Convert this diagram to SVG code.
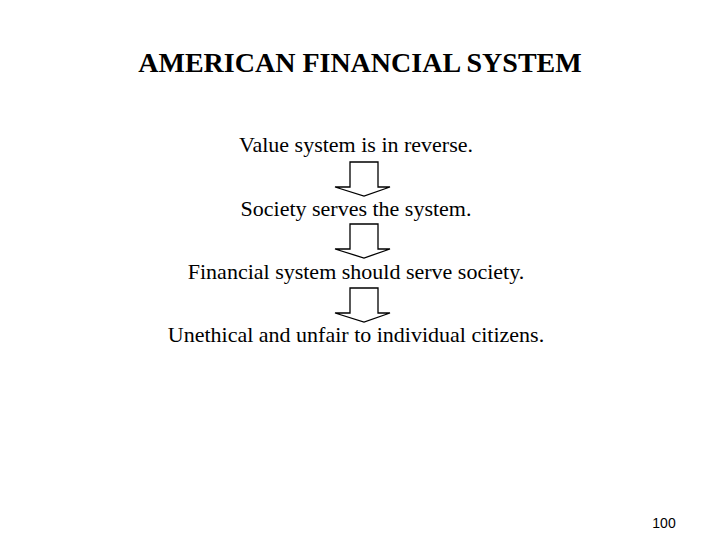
<svg xmlns="http://www.w3.org/2000/svg" width="720" height="540" viewBox="0 0 720 540">
<style>
.t{font-family:"Liberation Serif","Times New Roman",serif;font-size:22px;fill:#000;text-anchor:middle}
.h{font-family:"Liberation Serif","Times New Roman",serif;font-size:28px;font-weight:bold;fill:#000;text-anchor:middle}
.n{font-family:"Liberation Sans",Arial,sans-serif;font-size:14px;fill:#000;text-anchor:middle}
.a{fill:#fff;stroke:#000;stroke-width:1.3}
</style>
<rect width="720" height="540" fill="#fff"/>
<g id="title"><text class="h" x="360" y="72">AMERICAN FINANCIAL SYSTEM</text></g>
<g id="n1"><text class="t" x="356" y="152">Value system is in reverse.</text></g>
<g id="n2"><text class="t" x="356" y="216">Society serves the system.</text></g>
<g id="n3"><text class="t" x="356" y="279">Financial system should serve society.</text></g>
<g id="n4"><text class="t" x="356" y="342">Unethical and unfair to individual citizens.</text></g>
<g id="connectors">
<path class="a" d="M350,162 H378 V187 H390 L364,196 L335,187 H350 Z"/>
<path class="a" d="M350,224 H378 V249 H390 L364,258 L335,249 H350 Z"/>
<path class="a" d="M350,288 H378 V313 H390 L364,322 L335,313 H350 Z"/>
</g>
<g id="page"><text class="n" x="664" y="528">100</text></g>
</svg>
